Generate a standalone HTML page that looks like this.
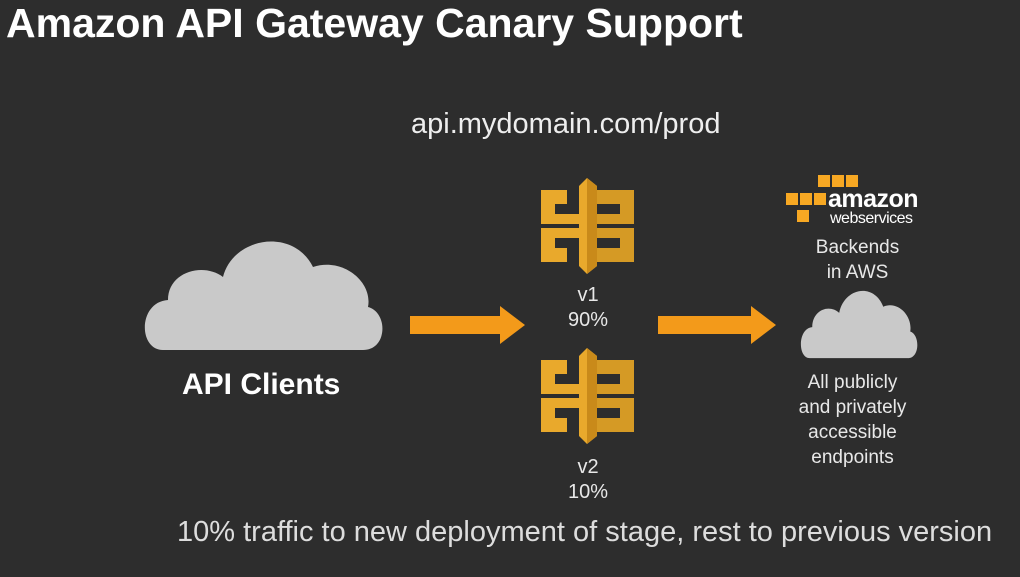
<!DOCTYPE html>
<html><head><style>
body{margin:0;width:1020px;height:577px;background:#2d2d2d;overflow:hidden;position:relative;font-family:"Liberation Sans",sans-serif;color:#fff}
.t{position:absolute;white-space:nowrap}
.c{text-align:center;color:#e8e8e8;font-size:19px;line-height:25px}
</style></head><body>
<div class="t" style="left:6px;top:0px;font-size:41px;font-weight:bold">Amazon API Gateway Canary Support</div>
<div class="t" style="left:411px;top:108px;font-size:29px;color:#eee">api.mydomain.com/prod</div>
<svg width="1020" height="577" style="position:absolute;left:0;top:0">
<defs>
<g id="gw">
<polygon points="38,8 46,0 56,8 56,88 46,96 38,88" fill="#e9a92c"/>
<polygon points="46,0 56,8 56,88 46,96" fill="#c98a1a"/>
<polygon points="0,12 26,12 26,26 14,26 14,36 38,36 38,46 0,46" fill="#e9a92c"/>
<polygon points="56,12 93,12 93,46 56,46 56,36 79,36 79,26 56,26" fill="#d59a25"/>
<polygon points="0,50 38,50 38,60 14,60 14,70 26,70 26,84 0,84" fill="#e9a92c"/>
<polygon points="56,50 93,50 93,84 56,84 56,70 79,70 79,60 56,60" fill="#d59a25"/>
</g>
<g id="cl">
<path d="M20,118 C-5,118 -5,70 25,68 C25,40 60,30 80,45 C90,5 150,-5 170,35 C200,25 230,50 225,75 C245,80 245,118 220,118 Z" fill="#c9c9c9"/>
</g>
</defs>
<use href="#gw" x="541" y="178"/>
<use href="#gw" x="541" y="348"/>
<use href="#cl" x="143" y="232"/>
<use href="#cl" transform="translate(800,285) scale(0.49,0.62)"/>
<polygon points="410,316 500,316 500,306 525,325 500,344 500,334 410,334" fill="#f39a1a"/>
<polygon points="658,316 751,316 751,306 776,325 751,344 751,334 658,334" fill="#f39a1a"/>
<g fill="#f7a823">
<rect x="818" y="175" width="12" height="12"/><rect x="832" y="175" width="12" height="12"/><rect x="846" y="175" width="12" height="12"/>
<rect x="786" y="193" width="12" height="12"/><rect x="800" y="193" width="12" height="12"/><rect x="814" y="193" width="12" height="12"/>
<rect x="797" y="210" width="12" height="12"/>
</g>
</svg>
<div class="t" style="left:828px;top:185px;font-size:25px;font-weight:bold;letter-spacing:-0.5px">amazon</div>
<div class="t" style="left:830px;top:210px;font-size:16px;letter-spacing:-0.5px">webservices</div>
<div class="t c" style="left:790px;width:135px;top:235px">Backends<br>in AWS</div>
<div class="t c" style="left:780px;width:145px;top:370px">All publicly<br>and privately<br>accessible<br>endpoints</div>
<div class="t c" style="left:548px;width:80px;top:283px;font-size:20px">v1<br>90%</div>
<div class="t c" style="left:548px;width:80px;top:455px;font-size:20px">v2<br>10%</div>
<div class="t" style="left:182px;top:368px;font-size:30px;font-weight:bold">API Clients</div>
<div class="t" style="left:177px;top:516px;font-size:29px;color:#ddd">10% traffic to new deployment of stage, rest to previous version</div>
</body></html>
